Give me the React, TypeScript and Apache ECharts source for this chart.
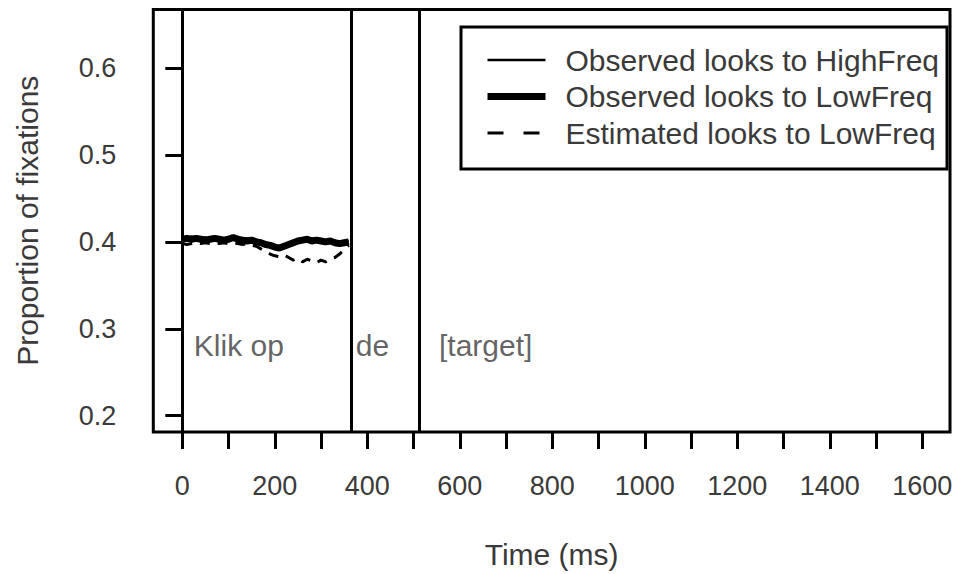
import React, { useEffect, useRef } from "react";
import * as echarts from "echarts";

const timeMs = [0, 10, 20, 30, 40, 50, 60, 70, 80, 90, 100, 110, 120, 130, 140, 150, 160, 170, 180, 190, 200, 210, 220, 230, 240, 250, 260, 270, 280, 290, 300, 310, 320, 330, 340, 350, 360];
const highObserved = [0.405, 0.404, 0.406, 0.405, 0.404, 0.405, 0.404, 0.403, 0.405, 0.404, 0.403, 0.406, 0.404, 0.403, 0.404, 0.401, 0.399, 0.400, 0.398, 0.395, 0.396, 0.392, 0.394, 0.396, 0.400, 0.403, 0.404, 0.402, 0.404, 0.403, 0.400, 0.402, 0.399, 0.401, 0.397, 0.400, 0.401];
const lowObserved = [0.403, 0.404, 0.403, 0.404, 0.403, 0.402, 0.403, 0.404, 0.403, 0.402, 0.403, 0.405, 0.403, 0.402, 0.401, 0.402, 0.400, 0.399, 0.397, 0.396, 0.394, 0.393, 0.395, 0.397, 0.399, 0.401, 0.402, 0.403, 0.401, 0.402, 0.401, 0.400, 0.401, 0.399, 0.398, 0.399, 0.400];
const lowEstimated = [0.398, 0.397, 0.398, 0.399, 0.398, 0.399, 0.398, 0.399, 0.398, 0.399, 0.398, 0.399, 0.398, 0.397, 0.398, 0.396, 0.395, 0.392, 0.389, 0.386, 0.384, 0.383, 0.385, 0.382, 0.379, 0.381, 0.377, 0.380, 0.378, 0.376, 0.379, 0.377, 0.380, 0.382, 0.386, 0.391, 0.396];

const wordBoundaries = [0, 365, 512];
const wordLabels = ["Klik op", "de", "[target]"];
const wordLabelX = [25, 375, 555];
const wordLabelY = 0.281;

const seriesNames = ["Observed looks to HighFreq", "Observed looks to LowFreq", "Estimated looks to LowFreq"];
const xTicks = [0, 100, 200, 300, 400, 500, 600, 700, 800, 900, 1000, 1100, 1200, 1300, 1400, 1500, 1600];
const xTickLabels = [0, 200, 400, 600, 800, 1000, 1200, 1400, 1600];
const yTicks = [0.2, 0.3, 0.4, 0.5, 0.6];

const FONT = "'Liberation Sans', Arial, sans-serif";
const TEXT = "#3a3a3a";
const LINE_WIDTHS = [2.5, 7, 3];

export default function App() {
  const ref = useRef<HTMLDivElement>(null);
  useEffect(() => {
    if (!ref.current) return;
    const chart = echarts.init(ref.current, null, { renderer: "svg" });
    const pairs = (vals: number[]) => timeMs.map((t, i) => [t, vals[i]]);
    chart.setOption({
      animation: false,
      backgroundColor: "#fff",
      textStyle: { fontFamily: FONT },
      grid: {
        left: 153.3,
        top: 9.5,
        right: 7,
        bottom: 138.3,
        show: true,
        borderColor: "#000",
        borderWidth: 3,
        backgroundColor: "transparent",
      },
      legend: {
        orient: "vertical",
        left: 461,
        top: 27,
        padding: [18, 8, 21, 23],
        itemWidth: 58,
        itemHeight: 14,
        itemGap: 6.5,
        borderColor: "#000",
        borderWidth: 3,
        backgroundColor: "#fff",
        selectedMode: false,
        itemStyle: { opacity: 0, borderWidth: 0 },
        data: seriesNames.map((n, i) => ({
          name: n,
          itemStyle: { opacity: 0, borderWidth: 0 },
          lineStyle: { width: LINE_WIDTHS[i], color: "#000", type: i === 2 ? [16, 20] : "solid" },
        })),
        textStyle: { fontSize: 30, color: TEXT, fontFamily: FONT, lineHeight: 30, padding: [0, 0, 0, 15] },
      },
      xAxis: {
        type: "value",
        min: -62.7,
        max: 1660,
        name: "Time (ms)",
        nameLocation: "middle",
        nameGap: 107,
        nameTextStyle: { fontSize: 30, color: TEXT, fontFamily: FONT },
        axisLine: { show: false },
        splitLine: { show: false },
        axisTick: {
          show: true,
          length: 17,
          lineStyle: { color: "#000", width: 3 },
          customValues: xTicks,
        },
        axisLabel: {
          fontSize: 27,
          color: TEXT,
          fontFamily: FONT,
          margin: 40,
          customValues: xTickLabels,
          formatter: (v: number) => String(v),
        },
      },
      yAxis: {
        type: "value",
        min: 0.1813,
        max: 0.6673,
        name: "Proportion of fixations",
        nameLocation: "middle",
        nameGap: 111,
        nameTextStyle: { fontSize: 30, color: TEXT, fontFamily: FONT },
        axisLine: { show: false },
        splitLine: { show: false },
        axisTick: {
          show: true,
          length: 17,
          lineStyle: { color: "#000", width: 3 },
          customValues: yTicks,
        },
        axisLabel: {
          fontSize: 27,
          color: TEXT,
          fontFamily: FONT,
          margin: 37,
          customValues: yTicks,
          formatter: (v: number) => v.toFixed(1),
        },
      },
      series: [
        {
          name: seriesNames[0],
          type: "line",
          data: pairs(highObserved),
          symbol: "none",
          lineStyle: { color: "#000", width: LINE_WIDTHS[0] },
          itemStyle: { color: "#000" },
          markLine: {
            silent: true,
            symbol: ["none", "none"],
            label: { show: false },
            lineStyle: { color: "#000", width: 3, type: "solid" },
            data: wordBoundaries.map((b) => ({ xAxis: b })),
          },
        },
        {
          name: seriesNames[1],
          type: "line",
          data: pairs(lowObserved),
          symbol: "none",
          lineStyle: { color: "#000", width: LINE_WIDTHS[1] },
          itemStyle: { color: "#000" },
        },
        {
          name: seriesNames[2],
          type: "line",
          data: pairs(lowEstimated),
          symbol: "none",
          lineStyle: { color: "#000", width: LINE_WIDTHS[2], type: [10, 8] },
          itemStyle: { color: "#000" },
        },
        {
          name: "words",
          type: "scatter",
          symbolSize: 0,
          silent: true,
          data: wordLabels.map((w, i) => ({ value: [wordLabelX[i], wordLabelY], name: w })),
          label: {
            show: true,
            position: "right",
            distance: 0,
            formatter: (p: any) => p.name,
            fontSize: 30,
            color: TEXT,
            fontFamily: FONT,
          },
        },
      ],
    });
    return () => chart.dispose();
  }, []);
  return <div ref={ref} style={{ width: 957, height: 574, position: "absolute", left: 0, top: 0 }} />;
}
